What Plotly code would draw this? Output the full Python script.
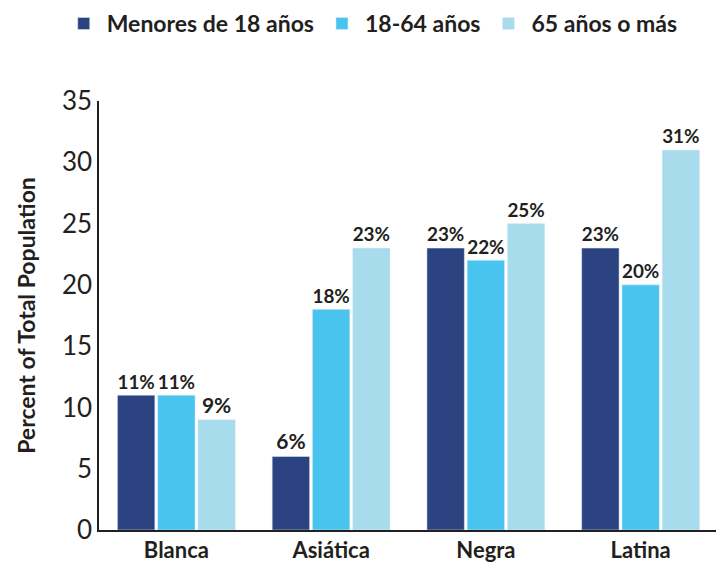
import plotly.graph_objects as go

categories = ["Blanca", "Asiática", "Negra", "Latina"]
series_names = ["Menores de 18 años", "18-64 años", "65 años o más"]
menores = [11, 6, 23, 23]
adultos = [11, 18, 22, 20]
mayores = [9, 23, 25, 31]
colors = ["#2b4380", "#48c4ef", "#a8dcec"]

fig = go.Figure()
for name, vals, col in zip(series_names, [menores, adultos, mayores], colors):
    fig.add_trace(go.Bar(
        x=categories, y=vals, name=name, marker_color=col,
        text=[f"{v}%" for v in vals], textposition="outside",
        textfont=dict(family="Lato", size=21, color="#231f20", weight="bold"),
        cliponaxis=False,
    ))

fig.update_layout(
    width=716, height=555,
    margin=dict(l=91, r=6, t=93, b=33, autoexpand=False),
    paper_bgcolor="white", plot_bgcolor="white",
    barmode="group", bargap=0.22, bargroupgap=0.07,
    font=dict(family="Lato", color="#231f20"),
    legend=dict(orientation="h", x=0.508, xref="container", xanchor="center",
                y=0.972, yref="container", yanchor="middle",
                font=dict(family="Lato", size=23, weight="bold", color="#231f20"),
                traceorder="normal", itemwidth=36),
    showlegend=True,
    xaxis=dict(showline=True, linecolor="#231f20", linewidth=2, automargin=False,
               tickfont=dict(family="Lato", size=22, weight="bold", color="#231f20"),
               ticks="", range=[-0.5, 3.5]),
    yaxis=dict(range=[0, 35], dtick=5, showgrid=False, zeroline=False, automargin=False,
               showline=True, linecolor="#231f20", linewidth=1.5,
               ticks="", ticklen=0,
               tickfont=dict(family="Lato", size=26, color="#231f20"),
               title=dict(text="Percent of Total Population", standoff=20,
                          font=dict(family="Lato", size=23, weight="bold", color="#231f20"))),
)
fig.write_html("out.html")
